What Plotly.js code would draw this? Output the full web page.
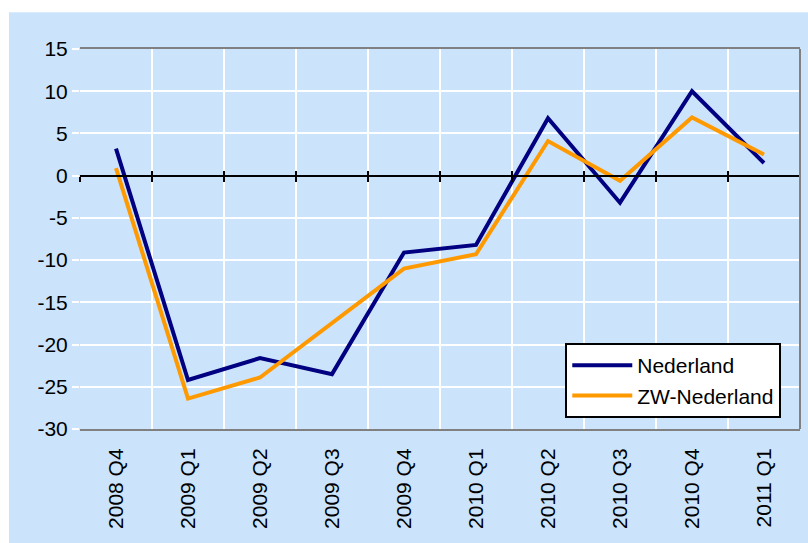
<!DOCTYPE html>
<html>
<head>
<meta charset="utf-8">
<script src="https://cdn.plot.ly/plotly-3.0.1.min.js"></script>
<style>html,body{margin:0;padding:0;background:#fff;}#chart{width:808px;height:543px;}</style>
</head>
<body>
<div id="chart"></div>
<script>
const categories = ["2008 Q4","2009 Q1","2009 Q2","2009 Q3","2009 Q4","2010 Q1","2010 Q2","2010 Q3","2010 Q4","2011 Q1"];
const nederland = [3.2, -24.2, -21.6, -23.5, -9.1, -8.2, 6.8, -3.2, 10.0, 1.5];
const zwNederland = [0.9, -26.4, -23.9, -17.4, -11.0, -9.3, 4.1, -0.6, 6.9, 2.5];
const yTicks = [-30, -25, -20, -15, -10, -5, 0, 5, 10, 15];
const yTickLabels = ["-30", "-25", "-20", "-15", "-10", "-5", "0", "5", "10", "15"];
const seriesNames = ["Nederland", "ZW-Nederland"];

const bg = '#cce4fb';
const boundaries = categories.map((c, i) => i - 0.5).concat([categories.length - 0.5]);
const yMin = -30, yMax = 15;
const zeroPos = (0 - yMin) / (yMax - yMin);

const traces = [
  {x: categories, y: nederland, name: seriesNames[0], type: 'scatter', mode: 'lines',
   line: {color: '#000080', width: 4}},
  {x: categories, y: zwNederland, name: seriesNames[1], type: 'scatter', mode: 'lines',
   line: {color: '#ff9900', width: 4}}
];

const font = {family: 'Liberation Sans, Arial, sans-serif', size: 21, color: '#000'};

const layout = {
  width: 808, height: 543,
  margin: {l: 80, r: 8, t: 49, b: 114},
  paper_bgcolor: '#ffffff',
  plot_bgcolor: bg,
  font: font,
  showlegend: true,
  legend: {x: 0.674, y: 0.226, xanchor: 'left', yanchor: 'top', bgcolor: '#ffffff',
           bordercolor: '#000', borderwidth: 2, font: font, itemwidth: 60,
           tracegroupgap: 2},
  xaxis: {type: 'category', categoryorder: 'array', categoryarray: categories,
          range: [-0.5, categories.length - 0.5], tickson: 'boundaries',
          showgrid: true, gridcolor: '#ffffff', gridwidth: 2,
          ticks: '', tickangle: -90, ticklabelstandoff: 9, zeroline: false,
          showline: true, linecolor: '#808080', linewidth: 2, mirror: true},
  xaxis2: {overlaying: 'x', anchor: 'free', position: zeroPos, side: 'bottom',
           range: [-0.5, categories.length - 0.5], tickmode: 'array', tickvals: boundaries,
           ticks: 'outside', ticklen: 5, tickwidth: 2, tickcolor: '#000',
           showticklabels: false, showgrid: false, zeroline: false,
           showline: true, linecolor: '#000', linewidth: 2},
  xaxis3: {overlaying: 'x', anchor: 'free', position: zeroPos, side: 'bottom',
           range: [-0.5, categories.length - 0.5], tickmode: 'array', tickvals: boundaries,
           ticks: 'inside', ticklen: 5, tickwidth: 2, tickcolor: '#000',
           showticklabels: false, showgrid: false, zeroline: false, showline: false},
  yaxis: {range: [yMin, yMax], tickmode: 'array', tickvals: yTicks, ticktext: yTickLabels,
          showgrid: true, gridcolor: '#ffffff', gridwidth: 2, zeroline: false,
          ticks: 'outside', ticklen: 7, tickwidth: 2, tickcolor: '#ffffff',
          showline: false},
  shapes: [
    {type: 'rect', xref: 'paper', yref: 'paper', x0: -0.0986, x1: 1.02, y0: -0.31, y1: 1.097,
     fillcolor: bg, line: {width: 0}, layer: 'below'},
    {type: 'line', xref: 'paper', yref: 'paper', x0: 1, x1: 1, y0: 0, y1: 1,
     line: {color: '#808080', width: 2}, layer: 'above'}
  ]
};

traces.push({x: [0], y: [0], xaxis: 'x2', yaxis: 'y', mode: 'markers', marker: {opacity: 0}, showlegend: false, hoverinfo: 'skip'});
traces.push({x: [0], y: [0], xaxis: 'x3', yaxis: 'y', mode: 'markers', marker: {opacity: 0}, showlegend: false, hoverinfo: 'skip'});

Plotly.newPlot('chart', traces, layout, {displayModeBar: false, staticPlot: true});
</script>
</body>
</html>
